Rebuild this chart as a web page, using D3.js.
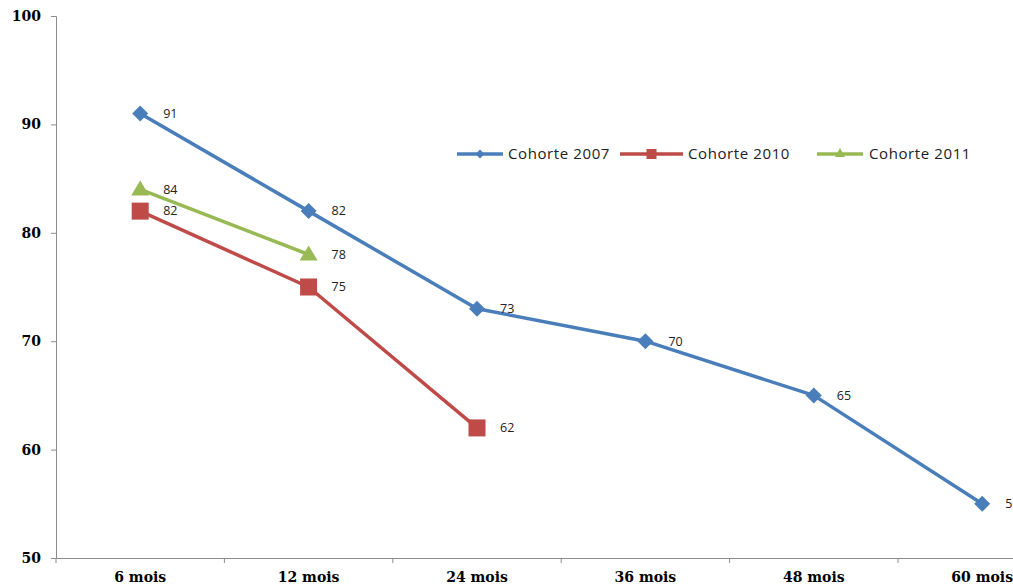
<!DOCTYPE html>
<html>
<head>
<meta charset="utf-8">
<script src="https://cdn.jsdelivr.net/npm/d3@7"></script>
<style>
  html, body { margin: 0; padding: 0; background: #fff; }
  svg { display: block; }
</style>
</head>
<body>
<svg id="chart" width="1013" height="586"></svg>
<script>
// Categories (follow-up duration) and cohort values
const categories = ["6 mois", "12 mois", "24 mois", "36 mois", "48 mois", "60 mois"];
const cohorte2007 = [91, 82, 73, 70, 65, 55];
const cohorte2010 = [82, 75, 62];
const cohorte2011 = [84, 78];
const yTicks = [50, 60, 70, 80, 90, 100];

const seriesList = [
  { name: "Cohorte 2007", values: cohorte2007, color: "#4a7ebb", marker: "diamond" },
  { name: "Cohorte 2010", values: cohorte2010, color: "#be4b48", marker: "square" },
  { name: "Cohorte 2011", values: cohorte2011, color: "#98b954", marker: "triangle" }
];

const svg = d3.select("#chart");
const plotLeft = 56, plotTop = 16, plotBottom = 558;
const step = 168.4;

const x = d3.scaleBand()
  .domain(categories)
  .range([plotLeft, plotLeft + step * categories.length])
  .paddingInner(0).paddingOuter(0);
const y = d3.scaleLinear().domain([50, 100]).range([plotBottom, plotTop]);
const cx = c => x(c) + x.bandwidth() / 2;

const axisColor = "#8c8c8c";
const tickFont = "'DejaVu Serif', serif";

// Y axis
const yAxis = svg.append("g")
  .attr("transform", `translate(${plotLeft},0)`)
  .call(d3.axisLeft(y).tickValues(yTicks).tickSize(5).tickPadding(10).tickFormat(d3.format("d")));
yAxis.select(".domain").attr("stroke", axisColor).attr("stroke-width", 1);
yAxis.selectAll(".tick line").attr("stroke", axisColor);
yAxis.selectAll(".tick text")
  .attr("fill", "#000")
  .style("font-family", tickFont)
  .style("font-weight", "bold")
  .style("font-size", "14px");

// X axis
const xAxis = svg.append("g")
  .attr("transform", `translate(0,${plotBottom})`)
  .call(d3.axisBottom(x).tickSize(0).tickPadding(14));
xAxis.select(".domain").attr("stroke", axisColor).attr("stroke-width", 1);
xAxis.selectAll(".tick text")
  .attr("fill", "#000")
  .style("font-family", tickFont)
  .style("font-weight", "bold")
  .style("font-size", "14px");
// Tick marks at category boundaries
xAxis.selectAll(".bound")
  .data(categories)
  .enter().append("line")
  .attr("class", "bound")
  .attr("x1", d => x(d)).attr("x2", d => x(d))
  .attr("y1", 0).attr("y2", 5)
  .attr("stroke", axisColor);

function drawMarker(g, type, px, py, color) {
  if (type === "diamond") {
    const r = 8;
    g.append("path")
      .attr("d", `M${px},${py - r}L${px + r},${py}L${px},${py + r}L${px - r},${py}Z`)
      .attr("fill", color);
  } else if (type === "square") {
    const s = 17;
    g.append("rect")
      .attr("x", px - s / 2).attr("y", py - s / 2)
      .attr("width", s).attr("height", s)
      .attr("fill", color);
  } else if (type === "triangle") {
    const w = 18, h = 15;
    g.append("path")
      .attr("d", `M${px},${py - h * 0.6}L${px + w / 2},${py + h * 0.4}L${px - w / 2},${py + h * 0.4}Z`)
      .attr("fill", color);
  }
}

const line = d3.line()
  .x((d, i) => cx(categories[i]))
  .y(d => y(d));

// Draw series (2007 on top)
[...seriesList].reverse().forEach(s => {
  const g = svg.append("g");
  g.append("path")
    .datum(s.values)
    .attr("d", line)
    .attr("fill", "none")
    .attr("stroke", s.color)
    .attr("stroke-width", 3.5)
    .attr("stroke-linejoin", "round");
  s.values.forEach((v, i) => drawMarker(g, s.marker, cx(categories[i]), y(v), s.color));
  g.selectAll("text.lbl")
    .data(s.values)
    .enter().append("text")
    .attr("class", "lbl")
    .attr("x", (d, i) => cx(categories[i]) + 23)
    .attr("y", d => y(d))
    .attr("dy", "0.35em")
    .attr("fill", "#222")
    .style("font-family", "'Open Sans', sans-serif")
    .style("font-size", "12.5px")
    .text(d => d);
});

// Legend
const legendItems = [
  { s: seriesList[0], x0: 457, x1: 503, tx: 508 },
  { s: seriesList[1], x0: 620, x1: 683, tx: 688 },
  { s: seriesList[2], x0: 817, x1: 863, tx: 869 }
];
const ly = 154;
legendItems.forEach(it => {
  const g = svg.append("g");
  g.append("line")
    .attr("x1", it.x0).attr("x2", it.x1)
    .attr("y1", ly).attr("y2", ly)
    .attr("stroke", it.s.color).attr("stroke-width", 3.5);
  const mx = (it.x0 + it.x1) / 2;
  if (it.s.marker === "diamond") {
    g.append("path").attr("d", `M${mx},${ly - 4.5}L${mx + 4.5},${ly}L${mx},${ly + 4.5}L${mx - 4.5},${ly}Z`).attr("fill", it.s.color);
  } else if (it.s.marker === "square") {
    g.append("rect").attr("x", mx - 5).attr("y", ly - 5).attr("width", 10).attr("height", 10).attr("fill", it.s.color);
  } else {
    g.append("path").attr("d", `M${mx},${ly - 6}L${mx + 5},${ly + 3}L${mx - 5},${ly + 3}Z`).attr("fill", it.s.color);
  }
  g.append("text")
    .attr("x", it.tx).attr("y", ly).attr("dy", "0.35em")
    .attr("fill", "#222")
    .style("font-family", "'Open Sans', sans-serif")
    .style("font-size", "15px")
    .style("letter-spacing", "0.6px")
    .text(it.s.name);
});
</script>
</body>
</html>
